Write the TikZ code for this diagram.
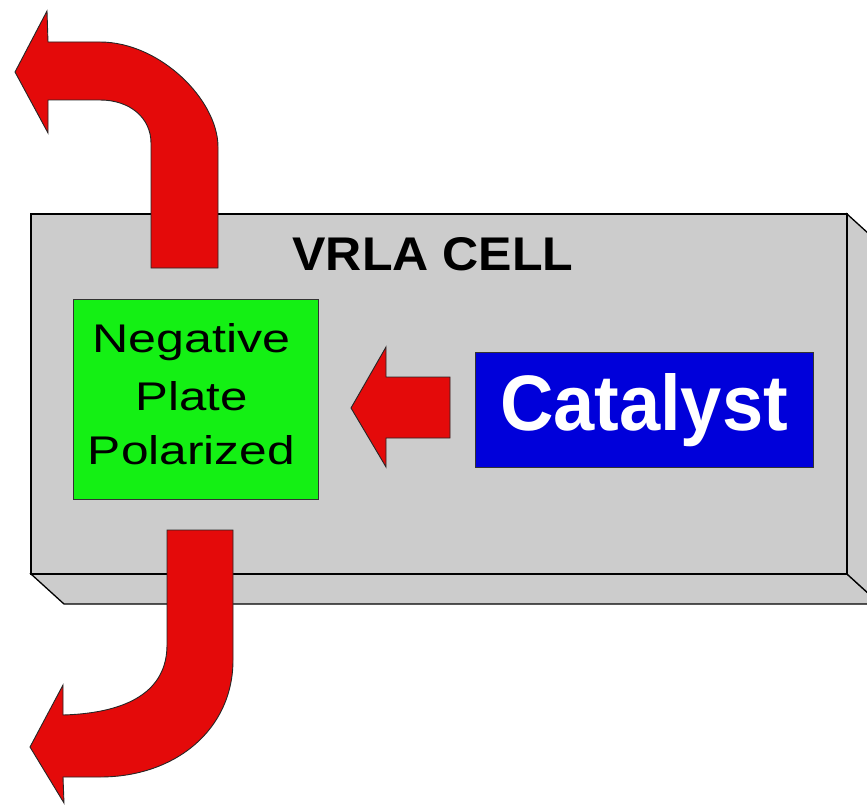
\documentclass[tikz,border=0pt]{standalone}
\usepackage{fontspec}
\setmainfont{Liberation Sans}
\usepackage{graphicx}
\definecolor{cellgray}{RGB}{204,204,204}
\definecolor{arrowred}{RGB}{228,10,10}
\definecolor{plategreen}{RGB}{20,240,20}
\definecolor{catblue}{RGB}{0,0,218}
\tikzset{
  cellface/.style={fill=cellgray, draw=black, line width=1.3pt, line join=miter},
  bigarrow/.style={fill=arrowred, draw=black!85, line width=0.9pt, line join=miter},
  platebox/.style={fill=plategreen, draw=black!80, line width=1pt, inner sep=0pt},
  catbox/.style={fill=catblue, draw=black!80, line width=1pt, inner sep=0pt},
  lbl/.style={anchor=base, inner sep=0pt}
}
\begin{document}
\begin{tikzpicture}[x=1pt,y=-1pt]
\useasboundingbox (0,0) rectangle (867,805);
\clip (0,0) rectangle (867,805);
% cell box (front, bottom and right faces)
\draw[cellface] (31,574) -- (64,604) -- (880,604) -- (847,574) -- cycle;
\draw[cellface] (847,214) -- (880,244) -- (880,604) -- (847,574) -- cycle;
\draw[cellface] (31,214) rectangle (847,574);
\node[lbl] (cell) at (433,270) {\resizebox{281pt}{33pt}{\bfseries VRLA CELL}};
% top curved arrow
\draw[bigarrow] (151,268) -- (151,143)
  .. controls (151,118) and (130,100) .. (100,100)
  -- (48,100) -- (48,133) -- (15,72) -- (47,11) -- (48,42) -- (100,42)
  .. controls (160,42) and (218,100) .. (218,147)
  -- (218,268) -- cycle;
% bottom curved arrow
\draw[bigarrow] (167,530) -- (233,530) -- (233,660)
  .. controls (233,730) and (175,777) .. (100,777)
  -- (63,777) -- (64,803) -- (30,747) -- (63,685) -- (63,715)
  .. controls (130,713) and (167,690) .. (167,645)
  -- cycle;
% green plate box
\node[platebox, minimum width=245pt, minimum height=200pt] (plate) at (195.5,399) {};
\node[lbl] (neg) at (191.5,352) {\resizebox{198pt}{29pt}{Negative}};
\node[lbl] (plt) at (191.5,410) {\resizebox{112pt}{29pt}{Plate}};
\node[lbl] (pol) at (191.5,464) {\resizebox{207pt}{29pt}{Polarized}};
% blue catalyst box
\node[catbox, minimum width=338pt, minimum height=115pt] (cat) at (644,409.5) {};
\node[lbl, text=white] (catlbl) at (644,430) {\resizebox{288pt}{57pt}{\bfseries Catalyst}};
% middle arrow
\draw[bigarrow] (450,377) -- (386,377) -- (386,347) -- (351,408) -- (386,467) -- (386,438) -- (450,438) -- cycle;
\end{tikzpicture}
\end{document}
